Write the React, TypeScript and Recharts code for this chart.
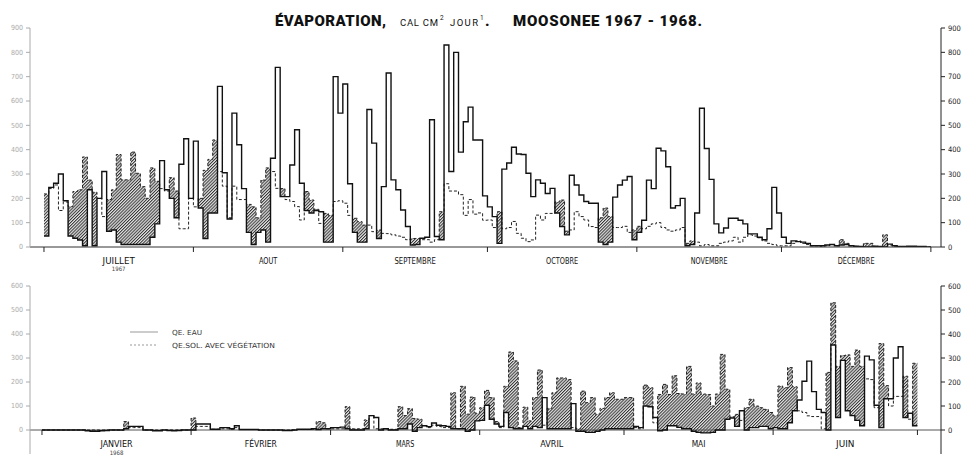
import React from 'react';
import { ComposedChart, Area, Line, XAxis, YAxis, ReferenceLine } from 'recharts';

// months and ticks
const months1967 = ['JUILLET', 'AOUT', 'SEPTEMBRE', 'OCTOBRE', 'NOVEMBRE', 'DÉCEMBRE'];
const monthStarts1967 = [0, 31, 62, 92, 123, 153, 184];
const months1968 = ['JANVIER', 'FÉVRIER', 'MARS', 'AVRIL', 'MAI', 'JUIN'];
const monthStarts1968 = [0, 31, 60, 91, 121, 152, 182];
const yTicks1967 = [0, 100, 200, 300, 400, 500, 600, 700, 800, 900];
const yTicks1968 = [-100, 0, 100, 200, 300, 400, 500, 600];

// daily QE, cal cm-2 jour-1, July 1 -> Dec 31 1967
const eau1967 = [
  45, 245, 262, 300, 190, 45, 36, 29, 5, 235,
  5, 200, 310, 65, 70, 20, 10, 10, 10, 10,
  10, 10, 40, 95, 355, 235, 200, 120, 340, 445,
  200, 435, 160, 35, 140, 140, 660, 305, 115, 550,
  420, 240, 60, 10, 60, 70, 20, 365, 738, 207,
  207, 337, 482, 262, 150, 140, 150, 145, 20, 20,
  700, 550, 670, 260, 60, 20, 20, 565, 427, 35,
  248, 715, 276, 235, 152, 84, 8, 10, 36, 40,
  523, 43, 30, 830, 310, 800, 390, 515, 575, 440,
  440, 210, 165, 125, 15, 320, 345, 410, 382, 380,
  303, 207, 276, 262, 220, 241, 140, 84, 50, 295,
  255, 214, 187, 180, 180, 20, 10, 20, 205, 255,
  275, 290, 30, 60, 110, 275, 240, 406, 395, 330,
  160, 170, 200, 5, 10, 140, 570, 405, 278, 95,
  58, 78, 118, 118, 110, 95, 54, 54, 40, 30,
  75, 245, 140, 40, 15, 25, 22, 20, 15, 5,
  5, 5, 8, 10, 5, 8, 10, 5, 3, 2,
  0, 0, 3, 2, 0, 12, 5, 2, 2, 3,
  3, 2, 2, 0,
];
const sol1967 = [
  218, 240, 255, 150, 185, 166, 228, 235, 370, 275,
  225, 200, 125, 195, 235, 380, 276, 276, 390, 303,
  248, 200, 325, 270, 240, 230, 285, 230, 75, 75,
  200, 165, 200, 315, 360, 440, 310, 250, 120, 250,
  195, 195, 175, 165, 120, 275, 325, 310, 241, 240,
  195, 187, 166, 111, 228, 193, 155, 97, 138, 130,
  187, 190, 180, 130, 118, 104, 90, 90, 63, 70,
  56, 55, 50, 45, 40, 30, 35, 35, 30, 30,
  20, 30, 145, 260, 230, 230, 215, 130, 195, 135,
  140, 110, 111, 80, 145, 75, 80, 105, 56, 36,
  22, 29, 131, 111, 138, 138, 185, 193, 65, 70,
  145, 125, 111, 84, 80, 120, 160, 125, 80, 80,
  85, 60, 70, 85, 75, 85, 95, 100, 80, 70,
  65, 70, 80, 15, 25, 20, 5, 10, 5, 5,
  15, 20, 25, 40, 20, 40, 50, 45, 38, 25,
  15, 10, 5, 5, 5, 15, 25, 15, 10, 5,
  5, 3, 5, 10, 5, 30, 15, 5, 3, 2,
  15, 15, 3, 2, 50, 8, 3, 2, 2, 2,
  2, 2, 2, 0,
];

// Jan 1 -> Jun 30 1968
const eau1968 = [
  0, 0, 0, 0, 0, 0, 0, 0, 0, -3,
  -5, -5, -3, -2, 0, 0, 0, 5, 15, 15,
  15, 0, 0, -3, -3, 0, -2, -3, -2, 0,
  0, 0, 25, 25, 25, 3, 3, 10, 10, 5,
  18, 2, 2, 2, 2, 0, 0, 0, 0, 0,
  -2, -2, 0, 3, 3, 3, 5, 2, 5, 5,
  10, 10, 12, 5, 0, 0, 0, 5, 60, 52,
  0, 5, 0, 0, 5, 5, 25, -5, 10, 18,
  14, 29, 20, 18, 15, 5, 5, 5, -5, 0,
  38, 40, 103, 45, 25, 15, 73, 10, 5, 5,
  15, 5, 15, 10, 135, 5, 5, 5, 5, 5,
  110, -5, -5, -10, -10, -5, 0, 5, 5, 5,
  5, 5, 5, 15, 10, 100, 97, 52, -3, 0,
  18, 18, 11, 5, 5, -5, -10, -12, -12, -10,
  0, 0, 45, 50, 15, 80, 0, 10, 10, 15,
  15, 5, 10, 5, 5, 30, 80, 125, 203, 287,
  160, 86, 73, 0, 354, 52, 290, 80, 60, 40,
  18, 308, 292, 103, 10, 130, 130, 300, 347, 52,
  70, 18,
];
const sol1968 = [
  0, 0, 0, 0, 0, 0, 0, 0, 0, 0,
  0, 0, 0, 0, 0, 0, 0, 35, 10, 10,
  10, 0, 0, 0, 0, 0, 0, 0, 0, 0,
  0, 50, 15, 15, 15, 3, 3, 5, 5, 3,
  10, 2, 2, 2, 2, 0, 0, 0, 0, 0,
  0, 0, 0, 2, 2, 2, 3, 35, 30, 5,
  5, 5, 5, 97, 5, 5, 5, 42, 60, 5,
  5, 5, 3, 3, 97, 60, 89, 48, 45, 18,
  10, 20, 15, 10, 10, 155, 5, 182, 66, 137,
  70, 93, 165, 135, 35, 10, 182, 325, 288, 10,
  95, 38, 135, 250, 20, 90, 155, 217, 217, 210,
  10, 5, 162, 114, 135, 66, 90, 135, 155, 128,
  128, 135, 135, 10, 5, 187, 176, 30, 148, 190,
  148, 226, 152, 150, 265, 150, 196, 150, 148, 100,
  150, 315, 170, 55, 65, 40, 93, 128, 100, 93,
  86, 73, 59, 183, 176, 260, 180, 80, 73, 59,
  56, 56, 5, 240, 530, 265, 310, 313, 265, 333,
  265, 213, 210, 93, 360, 185, 100, 140, 140, 224,
  45, 278,
];

const FONT = '"Liberation Sans Narrow", "DejaVu Sans Condensed", Roboto, "DejaVu Sans", sans-serif';

function buildRows(eau: number[], sol: number[]) {
  const rows = eau.map((e, i) => ({ d: i, eau: e, sol: sol[i], band: [e, Math.max(e, sol[i])] }));
  const n = eau.length;
  // extra point so the last step gets its width
  rows.push({ d: n, eau: eau[n - 1], sol: sol[n - 1], band: [eau[n - 1], Math.max(eau[n - 1], sol[n - 1])] });
  return rows;
}

function monthTicks(starts: number[], names: string[]) {
  const centers = names.map((_, i) => (starts[i] + starts[i + 1]) / 2);
  const labels = new Map<number, string>(centers.map((c, i) => [c, names[i]]));
  return { ticks: [...starts, ...centers].sort((a, b) => a - b), labels, first: centers[0] };
}

const top = monthTicks(monthStarts1967, months1967);
const bottom = monthTicks(monthStarts1968, months1968);
const rows1967 = buildRows(eau1967, sol1967);
const rows1968 = buildRows(eau1968, sol1968);

function makeMonthTick(
  m: { labels: Map<number, string>; first: number },
  year: string,
  zeroDy: number,
  labelDy: number,
  yearDy: number,
  size: number,
) {
  return function MonthTick(props: any) {
    const { x, y, payload } = props;
    const name = m.labels.get(payload.value);
    if (!name) {
      return <line x1={x} x2={x} y1={y + zeroDy} y2={y + zeroDy + 5} stroke="#222" strokeWidth={1} />;
    }
    return (
      <g>
        <text x={x} y={y + labelDy} textAnchor="middle" fontSize={size} fontFamily={FONT} fill="#111"
          textLength={name.length * 4.6} lengthAdjust="spacingAndGlyphs">{name}</text>
        {payload.value === m.first && (
          <text x={x} y={y + yearDy} textAnchor="middle" fontSize={6} fontFamily={FONT} fill="#444">{year}</text>
        )}
      </g>
    );
  };
}

const leftTick = { fontSize: 7, fill: '#aaa', fontFamily: FONT };
const rightTick = { fontSize: 7.5, fill: '#222', fontFamily: FONT };

function Hatch({ id }: { id: string }) {
  return (
    <defs>
      <pattern id={id} width={2.2} height={2.2} patternUnits="userSpaceOnUse" patternTransform="rotate(45)">
        <rect x={0} y={0} width={2.2} height={2.2} fill="#e6e6e6" />
        <line x1={0.5} y1={0} x2={0.5} y2={2.2} stroke="#333" strokeWidth={1} />
      </pattern>
    </defs>
  );
}

export default function App() {
  return (
    <div style={{ position: 'absolute', left: 0, top: 0, width: 965, height: 457, background: '#fff', overflow: 'hidden' }}>
      <div style={{ position: 'absolute', left: 0, top: 0 }}>
        <ComposedChart width={965} height={280} data={rows1967} margin={{ top: 28, right: 0, bottom: 0, left: 4 }}>
          <Hatch id="hatch67" />
          <XAxis dataKey="d" type="number" domain={[-2.9, 186.1]} allowDataOverflow ticks={top.ticks} interval={0}
            tickSize={0} tickMargin={0} height={33} stroke="#333"
            tick={makeMonthTick(top, '1967', 0, 17, 24, 9)} />
          <YAxis yAxisId="l" domain={[0, 900]} ticks={yTicks1967} allowDataOverflow width={26} tickSize={4}
            tickMargin={3} stroke="#aaa" tick={leftTick} />
          <YAxis yAxisId="r" orientation="right" domain={[0, 900]} ticks={yTicks1967} allowDataOverflow width={24}
            tickSize={4} tickMargin={3} stroke="#222" tick={rightTick} />
          <Area yAxisId="l" dataKey="band" type="stepAfter" fill="url(#hatch67)" fillOpacity={1} stroke="none"
            isAnimationActive={false} dot={false} activeDot={false} />
          <Line yAxisId="l" dataKey="sol" type="stepAfter" stroke="#222" strokeWidth={1} strokeDasharray="3 2"
            isAnimationActive={false} dot={false} activeDot={false} />
          <Line yAxisId="l" dataKey="eau" type="stepAfter" stroke="#111" strokeWidth={1.4}
            isAnimationActive={false} dot={false} activeDot={false} />
        </ComposedChart>
      </div>
      <div style={{ position: 'absolute', left: 0, top: 270 }}>
        <ComposedChart width={965} height={187} data={rows1968} margin={{ top: 16, right: 0, bottom: 0, left: 4 }}>
          <Hatch id="hatch68" />
          <XAxis dataKey="d" type="number" domain={[-2.49, 186.9]} allowDataOverflow ticks={bottom.ticks} interval={0}
            tickSize={0} tickMargin={0} height={3} axisLine={false}
            tick={makeMonthTick(bottom, '1968', -24, -7, 1, 8)} />
          <YAxis yAxisId="l" domain={[-100, 600]} ticks={yTicks1968} allowDataOverflow width={26} tickSize={4}
            tickMargin={3} stroke="#aaa" tick={leftTick} />
          <YAxis yAxisId="r" orientation="right" domain={[-100, 600]} ticks={yTicks1968} allowDataOverflow width={24}
            tickSize={4} tickMargin={3} stroke="#222" tick={rightTick} />
          <ReferenceLine yAxisId="l" y={0} stroke="#555" strokeWidth={1} />
          <Area yAxisId="l" dataKey="band" type="stepAfter" fill="url(#hatch68)" fillOpacity={1} stroke="none"
            isAnimationActive={false} dot={false} activeDot={false} />
          <Line yAxisId="l" dataKey="sol" type="stepAfter" stroke="#222" strokeWidth={1} strokeDasharray="3 2"
            isAnimationActive={false} dot={false} activeDot={false} />
          <Line yAxisId="l" dataKey="eau" type="stepAfter" stroke="#111" strokeWidth={1.4}
            isAnimationActive={false} dot={false} activeDot={false} />
        </ComposedChart>
      </div>
      <svg width={965} height={457} style={{ position: 'absolute', left: 0, top: 0, pointerEvents: 'none' }}>
        <g fill="#111" fontFamily="Roboto, 'DejaVu Sans', sans-serif">
          <text x={275} y={26} fontSize={15} fontWeight={900} textLength={111} lengthAdjust="spacing">ÉVAPORATION,</text>
          <text x={400} y={26} fontSize={9.5} textLength={38} lengthAdjust="spacing">CAL CM</text>
          <text x={440} y={20} fontSize={6.5}>2</text>
          <text x={450} y={26} fontSize={9.5} textLength={28} lengthAdjust="spacing">JOUR</text>
          <text x={480} y={20} fontSize={6.5}>1</text>
          <text x={485} y={26} fontSize={15} fontWeight={900}>.</text>
          <text x={513} y={26} fontSize={15} fontWeight={900} textLength={189} lengthAdjust="spacing">MOOSONEE 1967 - 1968.</text>
        </g>
        <g fontFamily={FONT} fontSize={7} fill="#333">
          <line x1={130} x2={158} y1={332} y2={332} stroke="#999" strokeWidth={1} />
          <text x={172} y={334.5} textLength={30} lengthAdjust="spacingAndGlyphs">QE. EAU</text>
          <line x1={130} x2={158} y1={345} y2={345} stroke="#999" strokeWidth={1} strokeDasharray="2 2" />
          <text x={172} y={347.5} textLength={103} lengthAdjust="spacingAndGlyphs">QE.SOL. AVEC VÉGÉTATION</text>
        </g>
      </svg>
    </div>
  );
}
